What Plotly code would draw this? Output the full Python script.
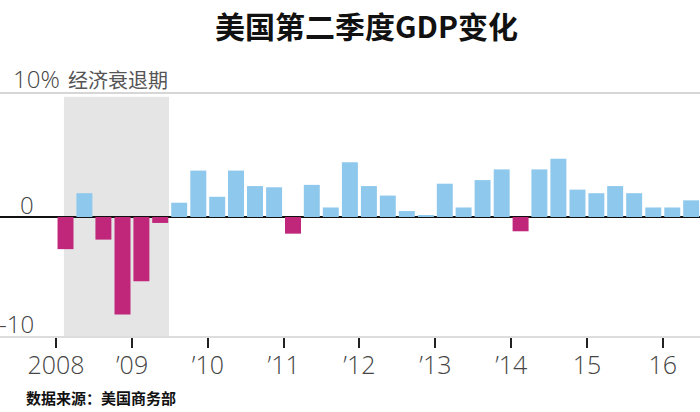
import pandas as pd
import plotly.graph_objects as go

# ---- data ----
quarters = [
    "2008Q1", "2008Q2", "2008Q3", "2008Q4",
    "2009Q1", "2009Q2", "2009Q3", "2009Q4",
    "2010Q1", "2010Q2", "2010Q3", "2010Q4",
    "2011Q1", "2011Q2", "2011Q3", "2011Q4",
    "2012Q1", "2012Q2", "2012Q3", "2012Q4",
    "2013Q1", "2013Q2", "2013Q3", "2013Q4",
    "2014Q1", "2014Q2", "2014Q3", "2014Q4",
    "2015Q1", "2015Q2", "2015Q3", "2015Q4",
    "2016Q1", "2016Q2",
]
gdp_change = [
    -2.7, 2.0, -1.9, -8.2,
    -5.4, -0.5, 1.2, 3.9,
    1.7, 3.9, 2.6, 2.5,
    -1.4, 2.7, 0.8, 4.6,
    2.6, 1.8, 0.5, 0.1,
    2.8, 0.8, 3.1, 4.0,
    -1.2, 4.0, 4.9, 2.3,
    2.0, 2.6, 2.0, 0.8,
    0.8, 1.4,
]
tick_dates = ["2008-01-01", "2009-01-01", "2010-01-01", "2011-01-01", "2012-01-01",
              "2013-01-01", "2014-01-01", "2015-01-01", "2016-01-01"]
tick_labels = ["2008", "\u201909", "\u201910", "\u201911", "\u201912",
               "\u201913", "\u201914", "15", "16"]
recession = ["2008-02-08", "2009-06-28"]
title_text = "美国第二季度GDP变化"
source_text = "数据来源：美国商务部"

POS = "#8EC8EC"
NEG = "#C0277A"
LABEL = "#444444"
CJK = "Noto Sans CJK SC"
LAT = "Open Sans, Noto Sans CJK SC"

x = pd.PeriodIndex(quarters, freq="Q").start_time
colors = [POS if v >= 0 else NEG for v in gdp_change]
quarter_ms = 91.3 * 86400000

fig = go.Figure()
fig.add_trace(go.Bar(
    x=x, y=gdp_change,
    xperiod="M3", xperiodalignment="middle",
    width=quarter_ms * 16 / 19,
    marker=dict(color=colors, line=dict(width=0)),
    hoverinfo="skip",
))

# recession shading
fig.add_shape(type="rect", xref="x", yref="paper",
              x0=recession[0], x1=recession[1], y0=0, y1=0.985,
              fillcolor="#e5e5e5", line=dict(width=0), layer="below")
# top gridline
fig.add_shape(type="line", xref="paper", yref="paper", x0=0, x1=1, y0=1, y1=1,
              line=dict(color="#d6d6d6", width=2), layer="below")

fig.update_layout(
    width=700, height=412,
    margin=dict(l=0, r=0, t=93, b=76),
    paper_bgcolor="white", plot_bgcolor="white",
    showlegend=False,
    xaxis=dict(
        type="date",
        range=["2007-04-06", "2016-06-28"],
        tickmode="array", tickvals=tick_dates, ticktext=tick_labels,
        ticks="outside", ticklen=10, tickwidth=2, tickcolor="#222222",
        showline=True, linecolor="#dddddd", linewidth=2,
        showgrid=False, zeroline=False,
        ticklabelstandoff=-4,
        tickfont=dict(family=LAT, size=25, color=LABEL, weight=300),
    ),
    yaxis=dict(
        range=[-10, 10.42],
        showgrid=False, showticklabels=False, ticks="",
        zeroline=True, zerolinecolor="#111111", zerolinewidth=2,
    ),
    annotations=[
        dict(text=title_text, xref="paper", yref="paper", x=367 / 700, y=1.28,
             xanchor="center", yanchor="middle", showarrow=False,
             font=dict(family=CJK, size=30, color="#111111", weight="bold")),
        dict(text="10%", xref="paper", yref="paper", x=11 / 700, y=1.058,
             xanchor="left", yanchor="middle", showarrow=False,
             font=dict(family=LAT, size=24, color=LABEL, weight=300)),
        dict(text="经济衰退期", xref="paper", yref="paper", x=66 / 700, y=1.055,
             xanchor="left", yanchor="middle", showarrow=False,
             font=dict(family=CJK, size=20, color="#555555")),
        dict(text="0", xref="paper", yref="paper", x=36 / 700, y=0.543,
             xanchor="right", yanchor="middle", showarrow=False,
             font=dict(family=LAT, size=24, color=LABEL, weight=300)),
        dict(text="-10", xref="paper", yref="paper", x=36 / 700, y=0.053,
             xanchor="right", yanchor="middle", showarrow=False,
             font=dict(family=LAT, size=24, color=LABEL, weight=300)),
        dict(text=source_text, xref="paper", yref="paper", x=24 / 700, y=-0.252,
             xanchor="left", yanchor="middle", showarrow=False,
             font=dict(family=CJK, size=15, color="#111111", weight="bold")),
    ],
)

fig.write_html(
    "out.html",
    config={"displayModeBar": False},
    post_script="document.body.style.margin='0';document.body.style.overflow='hidden';",
)
